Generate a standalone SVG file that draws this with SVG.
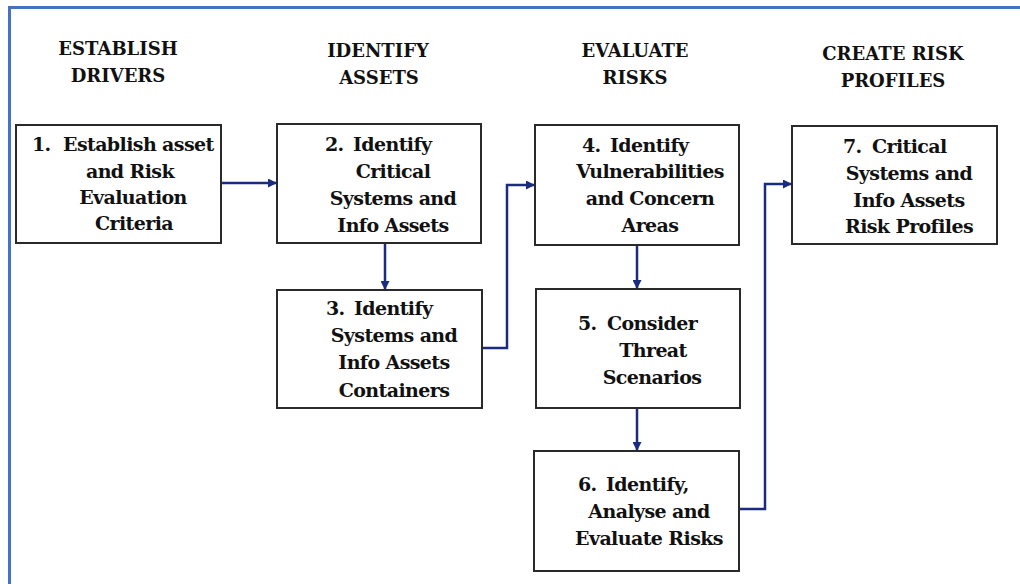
<svg xmlns="http://www.w3.org/2000/svg" width="1020" height="584" viewBox="0 0 1020 584">
<defs>
<style>
.frame{fill:none;stroke:#4472c4;stroke-width:3}
.box{fill:#fff;stroke:#2a2a2a;stroke-width:2}
.hd{font-family:'DejaVu Serif',serif;font-weight:bold;font-size:18px;fill:#111;text-anchor:middle}
.t{font-family:'DejaVu Serif',serif;font-weight:bold;font-size:19px;letter-spacing:-0.6px;fill:#111}
.c{text-anchor:middle}
.conn{fill:none;stroke:#1a2b80;stroke-width:2.5;marker-end:url(#arr)}
</style>
<marker id="arr" viewBox="0 0 10 10" refX="10" refY="5" markerWidth="9" markerHeight="9" markerUnits="userSpaceOnUse" orient="auto">
<path d="M0,0 L10,5 L0,10 z" fill="#1a2b80"/>
</marker>
</defs>
<rect width="1020" height="584" fill="#fff"/>
<path class="frame" d="M9.5,584 V7.5 H1020"/>
<g id="headings">
<text class="hd" x="118" y="55">ESTABLISH</text>
<text class="hd" x="118" y="82">DRIVERS</text>
<text class="hd" x="378" y="57">IDENTIFY</text>
<text class="hd" x="379" y="84">ASSETS</text>
<text class="hd" x="635" y="57">EVALUATE</text>
<text class="hd" x="635" y="84">RISKS</text>
<text class="hd" x="893" y="60">CREATE RISK</text>
<text class="hd" x="893" y="87">PROFILES</text>
</g>
<g id="connectors">
<path class="conn" d="M221,183 H277"/>
<path class="conn" d="M385,243 V290"/>
<path class="conn" d="M482,348 H507 V185 H535"/>
<path class="conn" d="M637,245 V289"/>
<path class="conn" d="M637,408 V451"/>
<path class="conn" d="M739,509 H765 V184 H792"/>
</g>
<g id="node1">
<rect class="box" x="16" y="125" width="205" height="118"/>
<text class="t" y="151"><tspan x="32">1.</tspan><tspan x="63">Establish asset</tspan></text>
<text class="t c" x="130" y="178">and Risk</text>
<text class="t c" x="133" y="204">Evaluation</text>
<text class="t c" x="134" y="230">Criteria</text>
</g>
<g id="node2">
<rect class="box" x="277" y="124" width="204" height="119"/>
<text class="t" y="151"><tspan x="325">2.</tspan><tspan x="353">Identify</tspan></text>
<text class="t c" x="393" y="178">Critical</text>
<text class="t c" x="393" y="205">Systems and</text>
<text class="t c" x="393" y="232">Info Assets</text>
</g>
<g id="node3">
<rect class="box" x="277" y="290" width="205" height="118"/>
<text class="t" y="315"><tspan x="326">3.</tspan><tspan x="354">Identify</tspan></text>
<text class="t c" x="394" y="342">Systems and</text>
<text class="t c" x="394" y="369">Info Assets</text>
<text class="t c" x="394" y="397">Containers</text>
</g>
<g id="node4">
<rect class="box" x="535" y="125" width="204" height="120"/>
<text class="t" y="152"><tspan x="582">4.</tspan><tspan x="610">Identify</tspan></text>
<text class="t c" x="650" y="178">Vulnerabilities</text>
<text class="t c" x="650" y="205">and Concern</text>
<text class="t c" x="650" y="232">Areas</text>
</g>
<g id="node5">
<rect class="box" x="536" y="289" width="204" height="119"/>
<text class="t" y="330"><tspan x="578">5.</tspan><tspan x="607">Consider</tspan></text>
<text class="t c" x="653" y="357">Threat</text>
<text class="t c" x="652" y="384">Scenarios</text>
</g>
<g id="node6">
<rect class="box" x="534" y="451" width="205" height="120"/>
<text class="t" y="491"><tspan x="578">6.</tspan><tspan x="606">Identify,</tspan></text>
<text class="t c" x="649" y="518">Analyse and</text>
<text class="t c" x="649" y="545">Evaluate Risks</text>
</g>
<g id="node7">
<rect class="box" x="792" y="126" width="205" height="118"/>
<text class="t" y="153"><tspan x="843">7.</tspan><tspan x="872">Critical</tspan></text>
<text class="t c" x="909" y="180">Systems and</text>
<text class="t c" x="909" y="207">Info Assets</text>
<text class="t c" x="909" y="233">Risk Profiles</text>
</g>
</svg>
